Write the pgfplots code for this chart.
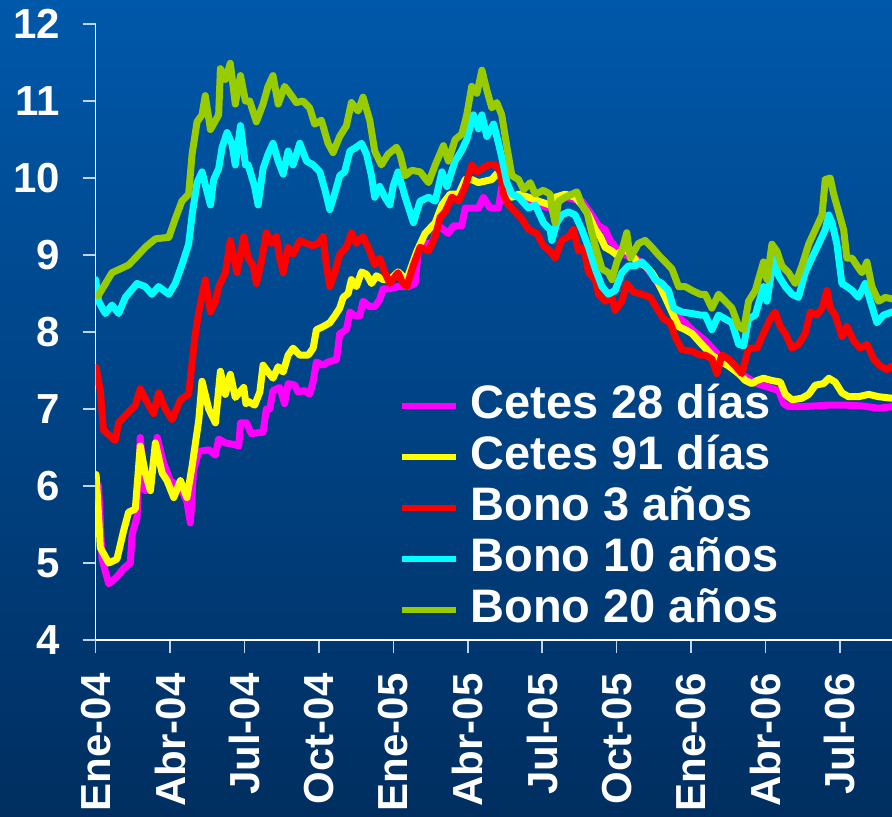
\documentclass[border=0pt]{standalone}
\usepackage{pgfplots}
\pgfplotsset{compat=1.18}
\usepackage{fontspec}
\setmainfont{Liberation Sans}

\definecolor{bgtop}{RGB}{0,88,170}
\definecolor{bgbot}{RGB}{0,46,96}
\definecolor{cetesA}{RGB}{255,0,255}
\definecolor{cetesB}{RGB}{255,255,0}
\definecolor{bonoA}{RGB}{255,0,0}
\definecolor{bonoB}{RGB}{0,255,255}
\definecolor{bonoC}{RGB}{153,204,0}

\begin{document}
\begin{tikzpicture}
\useasboundingbox (-47.8pt,-88pt) rectangle (398.2pt,320pt);
\fill[top color=bgtop,bottom color=bgbot] (-47.8pt,-88pt) rectangle (398.2pt,320pt);
\begin{axis}[
  at={(0,0)}, anchor=south west,
  scale only axis,
  width=398.2pt, height=308pt,
  xmin=0, xmax=32.1, ymin=4, ymax=12,
  axis lines=left,
  axis line style={-, white, line width=0.8pt},
  xtick={0,3,...,30},
  xticklabels={Ene-04,Abr-04,Jul-04,Oct-04,Ene-05,Abr-05,Jul-05,Oct-05,Ene-06,Abr-06,Jul-06},
  ytick={4,5,...,12},
  tick align=outside,
  major tick length=6.5pt,
  tick style={white!75!bgtop, line width=0.8pt},
  /pgf/number format/assume math mode=true,
  every tick label/.append style={text=white, font=\bfseries\fontsize{21}{21}\selectfont, inner sep=0pt},
  xticklabel style={rotate=90, anchor=east},
  yticklabel style={anchor=east},
  xticklabel shift=10pt,
  yticklabel shift=11pt,
  every axis plot/.append style={line width=3.5pt, line join=round, line cap=round, no markers},
  legend cell align=left,
  legend image code/.code={\draw[#1, line width=3pt, line cap=butt] (0pt,0pt) -- (27pt,0pt);},
  legend style={
    draw=none, fill=none,
    at={(rel axis cs:0.381,0.4156)}, anchor=north west,
    font=\bfseries\fontsize{23.5}{23.5}\selectfont,
    text=white,
    inner sep=0pt,
    row sep=3.5pt,
    nodes={inner xsep=5.5pt, inner ysep=0pt, text height=17pt, text depth=5pt}
  },
]
% Cetes 28 dias
\addplot[cetesA] coordinates {
(0.02,6.05)(0.12,6.0)(0.26,5.05)(0.53,4.73)(0.86,4.82)(1.13,4.93)(1.40,5.0)(1.47,5.37)(1.67,5.6)(1.80,6.63)
(2.00,5.94)(2.21,6.07)(2.48,6.63)(2.74,6.3)(3.01,6.07)(3.42,5.98)(3.68,5.8)(3.82,5.52)(3.95,6.21)(4.16,6.45)
(4.56,6.47)(4.83,6.4)(4.96,6.61)(5.23,6.56)(5.57,6.54)(5.77,6.52)(5.84,6.82)(6.08,6.82)(6.28,6.68)(6.75,6.7)
(6.88,7.0)(7.02,7.0)(7.15,7.24)(7.42,7.28)(7.62,7.07)(7.76,7.33)(8.03,7.31)(8.16,7.22)(8.43,7.24)(8.63,7.19)
(8.77,7.36)(8.90,7.61)(9.17,7.57)(9.37,7.61)(9.71,7.64)(9.84,7.98)(10.11,8.03)(10.25,8.26)(10.45,8.21)(10.65,8.21)
(10.78,8.40)(11.05,8.33)(11.25,8.33)(11.45,8.42)(11.59,8.56)(11.86,8.56)(12.19,8.59)(12.61,8.59)(12.88,8.63)(13.01,9.05)
(13.15,9.15)(13.55,9.15)(13.82,9.38)(14.22,9.28)(14.43,9.38)(14.76,9.38)(14.90,9.61)(15.43,9.61)(15.63,9.75)(15.90,9.61)
(16.24,9.61)(16.37,9.89)(16.71,9.79)(17.18,9.75)(17.72,9.65)(18.32,9.61)(18.93,9.75)(19.60,9.70)(20.00,9.52)(20.27,9.38)
(20.54,9.33)(20.74,9.19)(21.08,9.05)(21.35,9.0)(21.75,8.96)(22.15,8.86)(22.56,8.68)(22.96,8.49)(23.36,8.22)(23.77,8.12)
(24.04,8.03)(24.37,7.94)(24.57,7.89)(24.97,7.75)(25.38,7.61)(25.78,7.51)(26.19,7.42)(26.66,7.33)(27.13,7.28)(27.53,7.24)
(27.73,7.07)(27.93,7.03)(28.47,7.03)(29.55,7.05)(30.22,7.05)(30.89,7.04)(31.56,7.01)(32.10,7.03)
};
% Cetes 91 dias
\addplot[cetesB] coordinates {
(0.02,6.15)(0.12,5.61)(0.19,5.2)(0.53,5.0)(0.86,5.05)(1.13,5.42)(1.33,5.66)(1.60,5.70)(1.80,6.52)(2.00,6.17)
(2.21,5.94)(2.41,6.56)(2.68,6.17)(2.88,6.07)(3.15,5.85)(3.42,6.07)(3.68,5.85)(3.89,6.26)(4.16,6.86)(4.29,7.36)
(4.56,7.0)(4.83,6.82)(5.03,7.49)(5.23,7.19)(5.43,7.45)(5.63,7.15)(5.97,7.28)(6.06,7.07)(6.15,7.10)(6.41,7.05)
(6.62,7.22)(6.75,7.57)(6.95,7.48)(7.15,7.40)(7.36,7.55)(7.56,7.48)(7.76,7.70)(7.96,7.79)(8.23,7.7)(8.57,7.7)
(8.77,7.79)(8.90,8.03)(9.17,8.07)(9.44,8.12)(9.64,8.21)(9.84,8.31)(9.98,8.45)(10.18,8.5)(10.31,8.68)(10.51,8.59)
(10.72,8.78)(10.92,8.75)(11.12,8.63)(11.32,8.73)(11.59,8.68)(11.86,8.68)(12.19,8.78)(12.54,8.68)(12.95,9.05)(13.28,9.28)
(13.69,9.42)(13.96,9.65)(14.29,9.79)(14.63,9.79)(14.90,9.98)(15.16,9.98)(15.43,9.94)(15.70,9.96)(15.97,9.98)(16.24,10.08)
(16.51,9.89)(16.78,9.75)(17.05,9.79)(17.45,9.75)(17.85,9.70)(18.32,9.65)(18.52,9.75)(18.93,9.79)(19.33,9.75)(19.60,9.65)
(19.87,9.52)(20.14,9.33)(20.34,9.24)(20.54,9.10)(20.81,9.05)(21.01,9.0)(21.28,9.08)(21.62,9.0)(21.82,8.91)(22.15,8.86)
(22.42,8.77)(22.69,8.63)(22.96,8.45)(23.23,8.26)(23.50,8.07)(23.77,8.03)(24.04,7.98)(24.37,7.86)(24.84,7.70)(25.24,7.61)
(25.51,7.56)(25.92,7.46)(26.19,7.37)(26.45,7.33)(26.66,7.37)(26.92,7.40)(27.26,7.37)(27.60,7.35)(27.80,7.19)(28.07,7.12)
(28.47,7.14)(28.74,7.19)(29.01,7.31)(29.34,7.33)(29.55,7.40)(29.81,7.35)(30.08,7.21)(30.35,7.16)(30.75,7.16)(31.16,7.19)
(31.56,7.16)(32.10,7.14)
};
% Bono 3 anos
\addplot[bonoA] coordinates {
(0.02,7.54)(0.19,7.24)(0.32,6.72)(0.59,6.65)(0.79,6.59)(0.93,6.82)(1.33,6.96)(1.60,7.05)(1.80,7.26)(2.14,7.05)
(2.34,6.94)(2.54,7.21)(2.81,7.0)(3.08,6.86)(3.42,7.12)(3.75,7.19)(3.89,7.61)(4.02,7.98)(4.16,8.26)(4.42,8.68)
(4.63,8.26)(4.83,8.40)(4.96,8.59)(5.23,8.77)(5.43,9.19)(5.70,8.77)(5.97,9.24)(6.15,8.96)(6.35,8.86)(6.48,8.63)
(6.68,8.91)(6.88,9.29)(7.09,9.15)(7.29,9.24)(7.42,8.96)(7.56,8.77)(7.76,9.10)(7.96,9.01)(8.23,9.19)(8.50,9.15)
(8.77,9.12)(8.97,9.15)(9.17,9.24)(9.30,8.87)(9.44,8.59)(9.64,8.77)(9.84,9.01)(10.11,9.1)(10.31,9.29)(10.51,9.15)
(10.78,9.24)(11.05,9.05)(11.25,8.87)(11.45,8.96)(11.66,8.77)(11.86,8.63)(12.19,8.77)(12.34,8.66)(12.54,8.59)(12.81,8.87)
(13.08,9.10)(13.42,9.05)(13.69,9.24)(13.89,9.49)(14.09,9.56)(14.36,9.75)(14.63,9.70)(14.90,9.89)(15.16,10.17)(15.37,10.08)
(15.57,10.12)(15.84,10.17)(16.11,10.17)(16.31,10.08)(16.44,9.79)(16.64,9.65)(16.91,9.56)(17.18,9.47)(17.45,9.33)(17.79,9.28)
(18.05,9.12)(18.32,9.05)(18.52,8.96)(18.79,9.19)(19.06,9.24)(19.26,9.33)(19.47,9.05)(19.67,9.10)(19.87,8.77)(20.14,8.68)
(20.27,8.49)(20.54,8.40)(20.81,8.45)(20.94,8.28)(21.21,8.40)(21.41,8.63)(21.68,8.52)(22.02,8.49)(22.36,8.45)(22.62,8.31)
(22.89,8.17)(23.16,8.12)(23.36,7.94)(23.63,7.77)(24.04,7.75)(24.37,7.70)(24.57,7.70)(24.84,7.65)(25.04,7.46)(25.24,7.70)
(25.51,7.65)(25.78,7.56)(26.05,7.46)(26.32,7.79)(26.66,7.79)(26.92,7.98)(27.19,8.17)(27.39,8.26)(27.60,8.07)(27.80,7.98)
(28.07,7.79)(28.33,7.84)(28.60,7.98)(28.81,8.26)(29.07,8.22)(29.28,8.31)(29.48,8.54)(29.61,8.31)(29.81,8.22)(30.08,7.94)
(30.28,8.07)(30.55,7.89)(30.82,7.79)(31.09,7.84)(31.36,7.65)(31.63,7.56)(31.90,7.51)(32.10,7.56)
};
% Bono 10 anos
\addplot[bonoB] coordinates {
(0.0,8.68)(0.12,8.40)(0.39,8.24)(0.66,8.35)(0.93,8.24)(1.20,8.45)(1.67,8.63)(2.00,8.59)(2.27,8.49)(2.54,8.59)
(2.95,8.49)(3.21,8.63)(3.48,8.87)(3.75,9.14)(3.89,9.52)(4.09,9.94)(4.29,10.08)(4.63,9.65)(4.76,9.98)(4.96,10.12)
(5.10,10.40)(5.30,10.59)(5.50,10.44)(5.63,10.17)(5.84,10.68)(6.04,10.17)(6.15,10.17)(6.41,9.89)(6.55,9.65)(6.75,10.12)
(6.95,10.31)(7.15,10.45)(7.36,10.22)(7.56,10.05)(7.76,10.35)(7.96,10.17)(8.23,10.45)(8.50,10.22)(8.77,10.17)(9.04,10.08)
(9.24,9.85)(9.44,9.59)(9.64,9.8)(9.84,10.03)(10.04,10.08)(10.25,10.35)(10.51,10.4)(10.72,10.45)(10.92,10.31)(11.12,10.03)
(11.25,9.75)(11.45,9.89)(11.66,9.75)(11.86,9.65)(11.99,9.89)(12.19,10.08)(12.48,9.75)(12.81,9.42)(13.08,9.70)(13.42,9.75)
(13.69,9.70)(13.96,10.08)(14.16,9.89)(14.49,10.22)(14.76,10.36)(14.96,10.5)(15.23,10.82)(15.43,10.64)(15.57,10.82)(15.77,10.54)
(16.04,10.7)(16.24,10.45)(16.37,10.27)(16.58,9.94)(16.78,9.79)(17.05,9.75)(17.45,9.61)(17.72,9.65)(18.05,9.42)(18.32,9.33)
(18.39,9.19)(18.59,9.42)(18.79,9.52)(19.06,9.56)(19.33,9.52)(19.60,9.33)(19.87,9.10)(20.14,8.82)(20.41,8.59)(20.67,8.49)
(20.94,8.54)(21.21,8.77)(21.48,8.86)(21.75,8.86)(22.02,8.91)(22.29,8.82)(22.56,8.68)(22.83,8.63)(23.09,8.54)(23.30,8.31)
(23.63,8.26)(24.04,8.24)(24.37,8.22)(24.57,8.22)(24.84,8.03)(25.11,8.22)(25.38,8.17)(25.65,8.12)(25.92,7.84)(26.12,7.82)
(26.32,8.17)(26.59,8.22)(26.92,8.59)(27.06,8.40)(27.33,8.96)(27.53,8.73)(27.80,8.59)(28.07,8.49)(28.33,8.45)(28.60,8.77)
(28.87,8.96)(29.14,9.14)(29.41,9.33)(29.55,9.52)(29.68,9.42)(29.88,9.14)(30.08,8.63)(30.28,8.59)(30.49,8.54)(30.75,8.45)
(31.02,8.63)(31.23,8.40)(31.49,8.12)(31.76,8.22)(32.10,8.26)
};
% Bono 20 anos
\addplot[bonoC] coordinates {
(0.10,8.47)(0.66,8.77)(1.33,8.87)(1.60,8.96)(2.00,9.10)(2.41,9.21)(2.95,9.23)(3.21,9.47)(3.48,9.70)(3.75,9.79)
(3.89,10.31)(4.09,10.73)(4.29,10.82)(4.42,11.07)(4.63,10.63)(4.96,10.82)(5.03,11.42)(5.23,11.28)(5.43,11.49)(5.63,10.96)
(5.84,11.33)(6.04,11.0)(6.21,11.0)(6.48,10.73)(6.75,10.96)(6.95,11.19)(7.15,11.33)(7.36,10.96)(7.62,11.19)(7.83,11.1)
(8.09,10.98)(8.36,11.0)(8.63,10.91)(8.83,10.70)(9.10,10.75)(9.37,10.45)(9.57,10.33)(9.84,10.54)(10.11,10.68)(10.31,10.98)
(10.58,10.87)(10.78,11.05)(11.05,10.75)(11.25,10.35)(11.52,10.17)(11.79,10.31)(12.13,10.40)(12.27,10.31)(12.48,10.03)(12.74,10.10)
(13.08,10.08)(13.42,9.94)(13.69,10.17)(14.02,10.42)(14.22,10.22)(14.49,10.5)(14.76,10.57)(14.96,10.82)(15.16,11.19)(15.37,11.1)
(15.57,11.40)(15.77,11.14)(15.97,10.91)(16.17,10.98)(16.37,10.82)(16.58,10.40)(16.78,10.03)(17.05,9.98)(17.25,9.85)(17.52,9.94)
(17.72,9.79)(18.05,9.84)(18.32,9.79)(18.39,9.61)(18.52,9.42)(18.66,9.70)(18.93,9.75)(19.20,9.79)(19.40,9.82)(19.60,9.65)
(19.80,9.56)(20.00,9.29)(20.20,9.05)(20.41,8.82)(20.67,8.77)(20.81,8.68)(21.01,8.91)(21.21,9.05)(21.41,9.29)(21.55,8.96)
(21.88,9.15)(22.15,9.19)(22.42,9.10)(22.69,9.0)(22.96,8.91)(23.23,8.82)(23.50,8.59)(23.77,8.59)(24.04,8.54)(24.37,8.49)
(24.57,8.49)(24.84,8.31)(25.11,8.49)(25.38,8.40)(25.65,8.31)(25.92,8.07)(26.12,8.03)(26.32,8.40)(26.59,8.54)(26.92,8.91)
(27.06,8.68)(27.26,9.14)(27.46,9.05)(27.66,8.86)(27.93,8.77)(28.20,8.63)(28.47,8.86)(28.74,9.14)(29.01,9.33)(29.28,9.52)
(29.41,9.98)(29.61,10.0)(29.75,9.79)(29.95,9.56)(30.15,9.33)(30.28,8.96)(30.49,8.96)(30.69,8.86)(30.89,8.77)(31.09,8.91)
(31.29,8.59)(31.56,8.40)(31.83,8.45)(32.10,8.43)
};
\legend{Cetes 28 días,Cetes 91 días,Bono 3 años,Bono 10 años,Bono 20 años}
\end{axis}
\end{tikzpicture}
\end{document}
